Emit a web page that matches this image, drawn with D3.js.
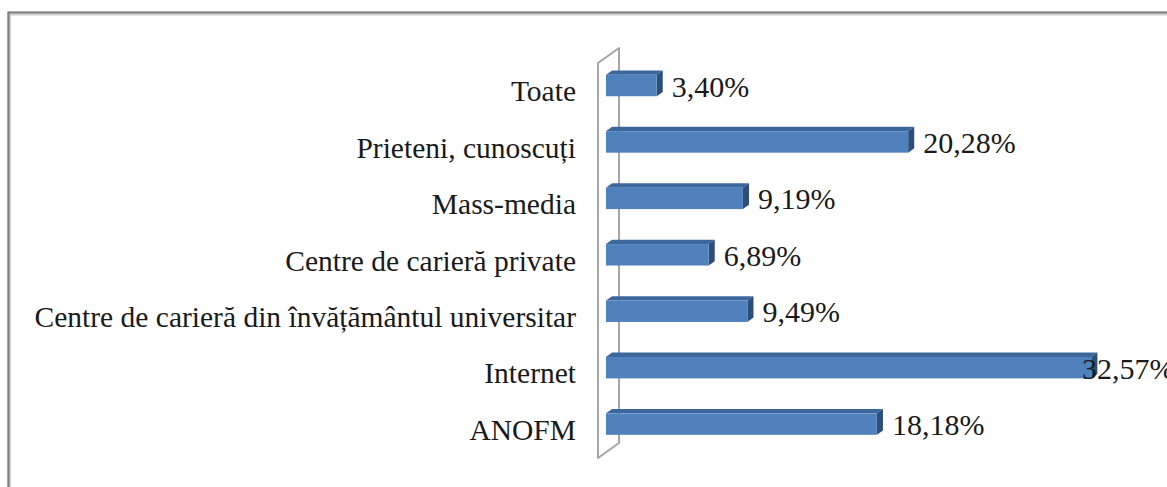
<!DOCTYPE html>
<html>
<head>
<meta charset="utf-8">
<script src="https://cdn.jsdelivr.net/npm/d3@7"></script>
<style>
  body { margin: 0; background: #fff; }
  svg { display: block; }
</style>
</head>
<body>
<div id="chart"></div>
<script>
// Surse de informare - grafic cu bare orizontale 3D

const categories = [
    "Toate",
    "Prieteni, cunoscuți",
    "Mass-media",
    "Centre de carieră private",
    "Centre de carieră din învățământul universitar",
    "Internet",
    "ANOFM"
];
const values = [3.40, 20.28, 9.19, 6.89, 9.49, 32.57, 18.18];
const valueDomain = [0, 35];

const W = 1167, H = 487;

// wall / plot area (front plane)
const x0 = 598;                       // value 0 on the front plane
const depth = { dx: 21, dy: -15 };    // full depth of the wall
const zFront = 0.38, zBack = 0.67;    // where bars sit in depth

const ro = d3.formatLocale({ decimal: ",", thousands: ".", grouping: [3], currency: ["", " lei"] });
const fmt = v => ro.format(".2f")(v) + "%";

const svg = d3.select("#chart")
    .append("svg")
    .attr("width", W)
    .attr("height", H);

// outer frame (only top and left edges visible)
svg.append("path")
    .attr("d", `M9,${H} L9,13.5 L${W},13.5`)
    .attr("fill", "none")
    .attr("stroke", "#d0d0d0")
    .attr("stroke-width", 4);
svg.append("path")
    .attr("d", `M8.5,${H} L8.5,12.5 L${W},12.5`)
    .attr("fill", "none")
    .attr("stroke", "#7f7f7f")
    .attr("stroke-width", 2);

// scales
const xScale = d3.scaleLinear()
    .domain(valueDomain)
    .range([0, 35 * 14.9]);

const yScale = d3.scaleBand()
    .domain(categories)
    .range([63, 458])
    .paddingInner(0.62)
    .paddingOuter(0.31);

// projection: value, y on front plane, depth z -> screen
const px = (v, z) => x0 + xScale(v) + depth.dx * z;
const py = (y, z) => y + depth.dy * z;

// back wall
const wallTop = 63, wallBottom = 458;
svg.append("polygon")
    .attr("points", [
        [px(0, 0), wallTop], [px(0, 1), py(wallTop, 1)],
        [px(0, 1), py(wallBottom, 1)], [px(0, 0), wallBottom]
    ].map(p => p.join(",")).join(" "))
    .attr("fill", "#fff")
    .attr("stroke", "#a6a6a6")
    .attr("stroke-width", 2)
    .attr("stroke-linejoin", "round");

const data = categories.map((c, i) => ({ cat: c, value: values[i] }));

const bars = svg.selectAll(".bar")
    .data(data)
    .enter()
    .append("g")
    .attr("class", "bar");

const pts = arr => arr.map(p => p.join(",")).join(" ");

// top face
bars.append("polygon")
    .attr("points", d => {
        const y = yScale(d.cat);
        return pts([
            [px(0, zFront), py(y, zFront)], [px(d.value, zFront), py(y, zFront)],
            [px(d.value, zBack), py(y, zBack)], [px(0, zBack), py(y, zBack)]
        ]);
    })
    .attr("fill", "#3b679c");

// side face
bars.append("polygon")
    .attr("points", d => {
        const y = yScale(d.cat), b = y + yScale.bandwidth();
        return pts([
            [px(d.value, zFront), py(y, zFront)], [px(d.value, zBack), py(y, zBack)],
            [px(d.value, zBack), py(b, zBack)], [px(d.value, zFront), py(b, zFront)]
        ]);
    })
    .attr("fill", "#2c4e78");

// front face
bars.append("rect")
    .attr("x", px(0, zFront))
    .attr("y", d => py(yScale(d.cat), zFront))
    .attr("width", d => xScale(d.value))
    .attr("height", yScale.bandwidth())
    .attr("fill", "#4f81bd");

// category labels
svg.selectAll(".cat-label")
    .data(data)
    .enter()
    .append("text")
    .attr("class", "cat-label")
    .attr("x", 576)
    .attr("y", d => yScale(d.cat) + yScale.bandwidth() / 2 + 10)
    .attr("text-anchor", "end")
    .style("font-family", "'Liberation Serif', 'Times New Roman', serif")
    .style("font-size", "29.5px")
    .style("fill", "#1a1a1a")
    .text(d => d.cat);

// value labels
svg.selectAll(".val-label")
    .data(data)
    .enter()
    .append("text")
    .attr("class", "val-label")
    .attr("x", d => Math.min(px(d.value, zBack) + 9, 1082))
    .attr("y", d => py(yScale(d.cat), zFront) + yScale.bandwidth() / 2 + 11)
    .style("font-family", "'Liberation Serif', 'Times New Roman', serif")
    .style("font-size", "30px")
    .style("fill", "#1a1a1a")
    .text(d => fmt(d.value));
</script>
</body>
</html>
